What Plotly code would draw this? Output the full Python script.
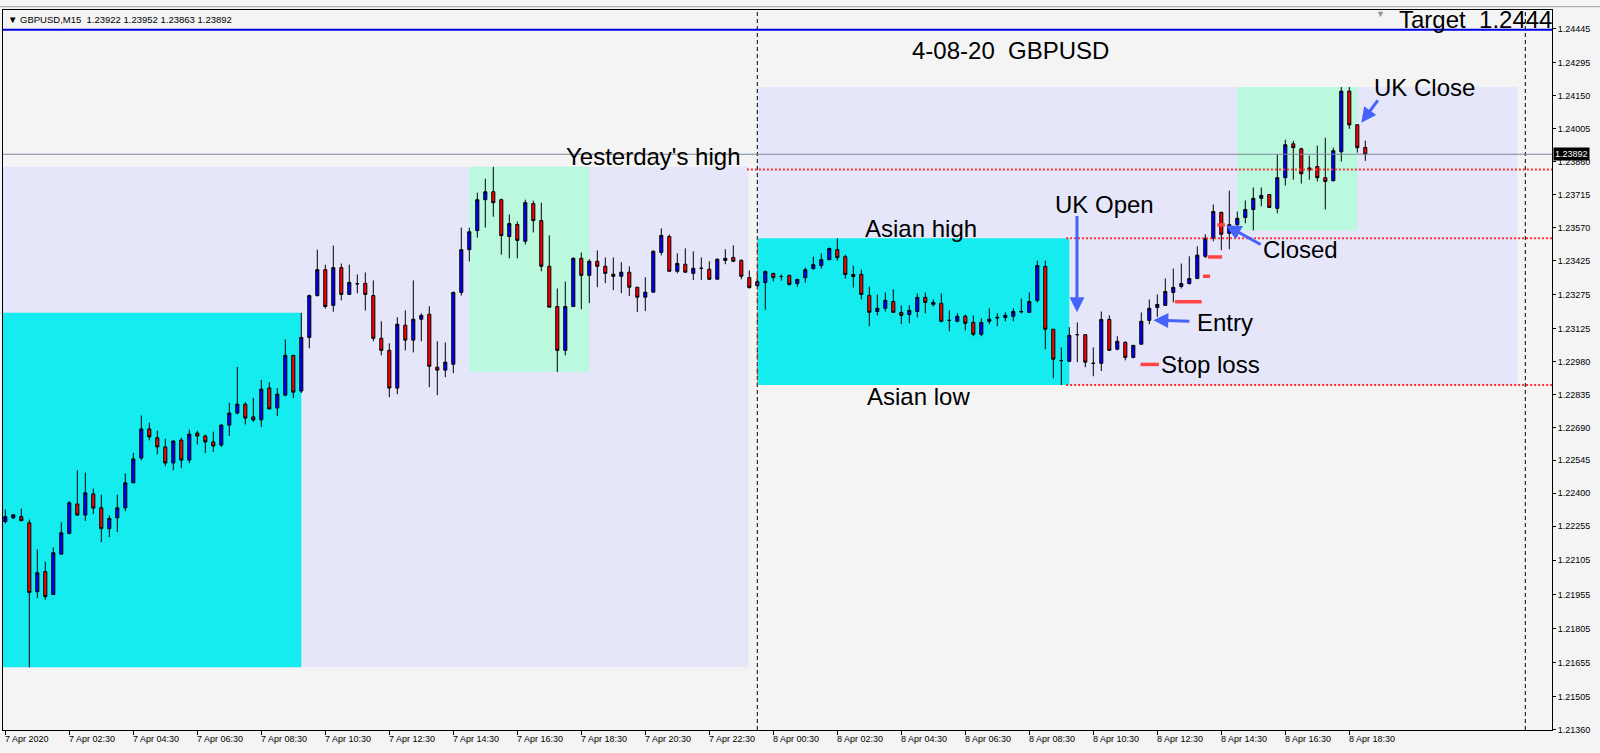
import plotly.graph_objects as go

# ---------------- data ----------------
symbol = "GBPUSD"
timeframe = "M15"
bars = list(range(171))  # bar index, M15 bars from 7 Apr 00:30

opens = [
    1.22275, 1.22292, 1.22297, 1.22270, 1.21967, 1.22055, 1.21954, 1.22132, 1.22223, 1.22353,
    1.22304, 1.22397, 1.22336, 1.22244, 1.22292, 1.22336, 1.22446, 1.22555, 1.22683, 1.22644,
    1.22604, 1.22533, 1.22634, 1.22546, 1.22665, 1.22652, 1.22626, 1.22612, 1.22700, 1.22753,
    1.22792, 1.22736, 1.22723, 1.22863, 1.22775, 1.22832, 1.23007, 1.22850, 1.23086, 1.23270,
    1.23384, 1.23227, 1.23393, 1.23275, 1.23322, 1.23324, 1.23270, 1.23082, 1.23029, 1.22863,
    1.23140, 1.23074, 1.23166, 1.23188, 1.22955, 1.22942, 1.22968, 1.23284, 1.23472, 1.23556,
    1.23692, 1.23727, 1.23692, 1.23530, 1.23583, 1.23509, 1.23675, 1.23600, 1.23399, 1.23222,
    1.23029, 1.23222, 1.23434, 1.23359, 1.23421, 1.23399, 1.23364, 1.23355, 1.23373, 1.23307,
    1.23263, 1.23285, 1.23460, 1.23530, 1.23377, 1.23408, 1.23368, 1.23390, 1.23386, 1.23342,
    1.23425, 1.23438, 1.23425, 1.23349, 1.23314, 1.23327, 1.23367, 1.23354, 1.23358, 1.23323,
    1.23349, 1.23389, 1.23402, 1.23428, 1.23472, 1.23441, 1.23363, 1.23363, 1.23271, 1.23200,
    1.23214, 1.23244, 1.23196, 1.23187, 1.23200, 1.23262, 1.23240, 1.23236, 1.23161, 1.23157,
    1.23179, 1.23152, 1.23100, 1.23157, 1.23171, 1.23174, 1.23179, 1.23198, 1.23196, 1.23249,
    1.23398, 1.23122, 1.22984, 1.22981, 1.23098, 1.23098, 1.22972, 1.22972, 1.23165, 1.23034,
    1.23064, 1.22998, 1.23056, 1.23161, 1.23218, 1.23227, 1.23284, 1.23310, 1.23323, 1.23345,
    1.23443, 1.23522, 1.23636, 1.23544, 1.23582, 1.23614, 1.23649, 1.23698, 1.23715, 1.23654,
    1.23789, 1.23938, 1.23916, 1.23832, 1.23838, 1.23789, 1.23776, 1.23903, 1.24170, 1.24022,
    1.23922,
]
highs = [
    1.22329, 1.22307, 1.22333, 1.22284, 1.22153, 1.22099, 1.22161, 1.22272, 1.22365, 1.22501,
    1.22491, 1.22421, 1.22394, 1.22303, 1.22394, 1.22487, 1.22578, 1.22742, 1.22711, 1.22676,
    1.22640, 1.22634, 1.22645, 1.22680, 1.22676, 1.22658, 1.22671, 1.22705, 1.22798, 1.22956,
    1.22801, 1.22820, 1.22899, 1.22889, 1.22863, 1.23077, 1.23007, 1.23194, 1.23275, 1.23472,
    1.23406, 1.23490, 1.23411, 1.23406, 1.23363, 1.23372, 1.23337, 1.23157, 1.23060, 1.23175,
    1.23205, 1.23337, 1.23192, 1.23223, 1.23069, 1.23064, 1.23288, 1.23569, 1.23569, 1.23723,
    1.23784, 1.23837, 1.23697, 1.23627, 1.23596, 1.23692, 1.23688, 1.23679, 1.23535, 1.23301,
    1.23332, 1.23438, 1.23460, 1.23430, 1.23469, 1.23438, 1.23438, 1.23417, 1.23399, 1.23307,
    1.23351, 1.23469, 1.23566, 1.23539, 1.23456, 1.23478, 1.23465, 1.23438, 1.23421, 1.23434,
    1.23474, 1.23491, 1.23430, 1.23381, 1.23371, 1.23381, 1.23371, 1.23363, 1.23363, 1.23345,
    1.23393, 1.23441, 1.23455, 1.23481, 1.23522, 1.23450, 1.23402, 1.23384, 1.23310, 1.23275,
    1.23284, 1.23297, 1.23227, 1.23227, 1.23280, 1.23284, 1.23253, 1.23280, 1.23205, 1.23192,
    1.23187, 1.23183, 1.23170, 1.23214, 1.23192, 1.23196, 1.23214, 1.23257, 1.23284, 1.23424,
    1.23424, 1.23122, 1.23042, 1.23131, 1.23152, 1.23098, 1.23042, 1.23200, 1.23183, 1.23091,
    1.23069, 1.23051, 1.23196, 1.23253, 1.23275, 1.23345, 1.23389, 1.23411, 1.23443, 1.23487,
    1.23540, 1.23671, 1.23640, 1.23732, 1.23640, 1.23689, 1.23746, 1.23746, 1.23715, 1.23890,
    1.23956, 1.23951, 1.23921, 1.23886, 1.23930, 1.23965, 1.23921, 1.24188, 1.24188, 1.24022,
    1.23952,
]
lows = [
    1.22267, 1.22286, 1.22278, 1.21634, 1.21939, 1.21931, 1.21953, 1.22131, 1.22219, 1.22300,
    1.22278, 1.22308, 1.22185, 1.22207, 1.22229, 1.22321, 1.22445, 1.22545, 1.22633, 1.22571,
    1.22519, 1.22501, 1.22510, 1.22532, 1.22615, 1.22577, 1.22582, 1.22604, 1.22652, 1.22747,
    1.22703, 1.22714, 1.22692, 1.22769, 1.22740, 1.22827, 1.22819, 1.22841, 1.23038, 1.23266,
    1.23213, 1.23199, 1.23249, 1.23274, 1.23280, 1.23204, 1.23069, 1.23007, 1.22823, 1.22836,
    1.23029, 1.23020, 1.23069, 1.22867, 1.22832, 1.22911, 1.22929, 1.23270, 1.23420, 1.23525,
    1.23569, 1.23617, 1.23450, 1.23434, 1.23434, 1.23495, 1.23548, 1.23377, 1.23219, 1.22933,
    1.23007, 1.23222, 1.23210, 1.23237, 1.23307, 1.23325, 1.23294, 1.23281, 1.23268, 1.23198,
    1.23202, 1.23284, 1.23447, 1.23377, 1.23368, 1.23371, 1.23338, 1.23338, 1.23338, 1.23342,
    1.23408, 1.23417, 1.23342, 1.23301, 1.23310, 1.23208, 1.23332, 1.23336, 1.23314, 1.23309,
    1.23327, 1.23384, 1.23389, 1.23428, 1.23424, 1.23345, 1.23305, 1.23253, 1.23135, 1.23183,
    1.23200, 1.23195, 1.23144, 1.23148, 1.23174, 1.23192, 1.23222, 1.23152, 1.23113, 1.23152,
    1.23117, 1.23091, 1.23091, 1.23144, 1.23135, 1.23157, 1.23157, 1.23192, 1.23195, 1.23240,
    1.23034, 1.22906, 1.22876, 1.22977, 1.22977, 1.22955, 1.22915, 1.22938, 1.23029, 1.23029,
    1.22985, 1.22994, 1.23056, 1.23144, 1.23176, 1.23227, 1.23240, 1.23301, 1.23319, 1.23345,
    1.23435, 1.23509, 1.23470, 1.23474, 1.23531, 1.23588, 1.23557, 1.23663, 1.23658, 1.23632,
    1.23754, 1.23780, 1.23763, 1.23780, 1.23772, 1.23649, 1.23772, 1.23860, 1.24004, 1.23899,
    1.23863,
]
closes = [
    1.22297, 1.22305, 1.22279, 1.21963, 1.22050, 1.21945, 1.22138, 1.22226, 1.22358, 1.22304,
    1.22402, 1.22335, 1.22244, 1.22289, 1.22336, 1.22446, 1.22551, 1.22683, 1.22648, 1.22604,
    1.22533, 1.22630, 1.22546, 1.22660, 1.22652, 1.22626, 1.22608, 1.22700, 1.22753, 1.22792,
    1.22731, 1.22723, 1.22858, 1.22771, 1.22836, 1.23007, 1.22845, 1.23086, 1.23270, 1.23384,
    1.23222, 1.23393, 1.23275, 1.23328, 1.23322, 1.23275, 1.23082, 1.23029, 1.22863, 1.23144,
    1.23074, 1.23166, 1.23183, 1.22959, 1.22942, 1.22977, 1.23284, 1.23472, 1.23551, 1.23692,
    1.23727, 1.23679, 1.23534, 1.23587, 1.23513, 1.23679, 1.23600, 1.23399, 1.23219, 1.23029,
    1.23222, 1.23434, 1.23359, 1.23421, 1.23399, 1.23368, 1.23355, 1.23373, 1.23307, 1.23263,
    1.23285, 1.23465, 1.23535, 1.23377, 1.23412, 1.23373, 1.23390, 1.23390, 1.23342, 1.23430,
    1.23434, 1.23421, 1.23355, 1.23305, 1.23331, 1.23376, 1.23349, 1.23354, 1.23319, 1.23341,
    1.23384, 1.23406, 1.23428, 1.23477, 1.23437, 1.23363, 1.23354, 1.23275, 1.23196, 1.23214,
    1.23249, 1.23196, 1.23183, 1.23205, 1.23262, 1.23240, 1.23231, 1.23157, 1.23161, 1.23179,
    1.23148, 1.23100, 1.23152, 1.23166, 1.23174, 1.23183, 1.23200, 1.23200, 1.23244, 1.23402,
    1.23122, 1.22990, 1.22984, 1.23095, 1.23098, 1.22977, 1.22972, 1.23165, 1.23029, 1.23069,
    1.22998, 1.23051, 1.23157, 1.23214, 1.23231, 1.23288, 1.23306, 1.23323, 1.23345, 1.23448,
    1.23522, 1.23640, 1.23540, 1.23582, 1.23610, 1.23649, 1.23698, 1.23711, 1.23658, 1.23789,
    1.23934, 1.23921, 1.23806, 1.23823, 1.23789, 1.23772, 1.23908, 1.24170, 1.24021, 1.23921,
    1.23892,
]

x_tick_bars = list(range(0, 169, 8))
x_tick_labels = [
    "7 Apr 2020", "7 Apr 02:30", "7 Apr 04:30", "7 Apr 06:30", "7 Apr 08:30", "7 Apr 10:30",
    "7 Apr 12:30", "7 Apr 14:30", "7 Apr 16:30", "7 Apr 18:30", "7 Apr 20:30", "7 Apr 22:30",
    "8 Apr 00:30", "8 Apr 02:30", "8 Apr 04:30", "8 Apr 06:30", "8 Apr 08:30", "8 Apr 10:30",
    "8 Apr 12:30", "8 Apr 14:30", "8 Apr 16:30", "8 Apr 18:30",
]
y_tick_values = [
    1.24445, 1.24295, 1.24150, 1.24005, 1.23860, 1.23715, 1.23570, 1.23425, 1.23275, 1.23125,
    1.22980, 1.22835, 1.22690, 1.22545, 1.22400, 1.22255, 1.22105, 1.21955, 1.21805, 1.21655,
    1.21505, 1.21360,
]
y_tick_labels = [f"{v:.5f}" for v in y_tick_values]

# session boxes: day range, Asian session, UK afternoon
box_names = ["day1", "asia1", "uk1", "day2", "asia2", "uk2"]
box_x0 = [-1.0, -1.0, 58.0, 94.0, 94.0, 154.0]
box_x1 = [92.9, 37.0, 73.0, 189.0, 133.0, 169.0]
box_low = [1.21634, 1.21634, 1.22935, 1.22876, 1.22876, 1.23557]
box_high = [1.23837, 1.23194, 1.23837, 1.24188, 1.23522, 1.24188]

# levels
yesterday_high = 1.23825
asian_high = 1.23522
asian_low = 1.22876
target_level = 1.24440
last_price = closes[-1]
day_separators = [94, 190]

# trailing stop marks
stop_levels = [1.22967, 1.23243, 1.23355, 1.23440, 1.23581]
stop_x0 = [141.9, 146.2, 149.7, 150.3, 151.5]
stop_x1 = [144.2, 149.55, 150.6, 152.1, 152.45]

# text labels (bar, price)
label_texts = ["4-08-20\u00a0\u00a0GBPUSD", "Yesterday's high", "Asian high", "Asian low",
               "UK Open", "Closed", "Entry", "Stop loss", "UK Close"]
label_x = [125.6, 81.0, 114.4, 114.2, 137.4, 161.96, 152.4, 150.7, 177.4]
label_y = [1.24347, 1.23884, 1.23566, 1.22828, 1.23671, 1.23475, 1.23152, 1.22966, 1.24188]

# arrows: tail -> tip (bar, price)
arrow_tail_x = [133.96, 157.1, 148.2, 171.7]
arrow_tail_y = [1.23627, 1.23491, 1.23157, 1.24136]
arrow_tip_x = [133.96, 152.6, 143.5, 169.5]
arrow_tip_y = [1.23197, 1.23579, 1.23162, 1.24031]

# ---------------- styling ----------------
BG = "#F4F4F4"
LAVENDER = "#E6E6FA"
CYAN = "#14ECF0"
MINT = "#BBF9DF"
box_colors = [LAVENDER, CYAN, MINT, LAVENDER, CYAN, MINT]
FONT = "Liberation Sans, Arial, sans-serif"
ARROW = "#4563FA"

W, H = 1600, 753
ML, MR, MT, MB = 3, 48, 10, 23
X_RANGE = [-0.2875, 193.3375]
Y_RANGE = [1.21358, 1.24527]

fig = go.Figure()
fig.add_trace(go.Candlestick(
    x=bars, open=opens, high=highs, low=lows, close=closes,
    increasing=dict(fillcolor="#0000FF", line=dict(color="#000000", width=1)),
    decreasing=dict(fillcolor="#FF0000", line=dict(color="#000000", width=1)),
    whiskerwidth=0, showlegend=False, hoverinfo="skip",
))

shapes = []
for x0, x1, lo, hi, col in zip(box_x0, box_x1, box_low, box_high, box_colors):
    shapes.append(dict(type="rect", xref="x", yref="y", x0=x0, x1=x1, y0=lo, y1=hi,
                       fillcolor=col, line=dict(width=0), layer="below"))

# day separators
for xs in day_separators:
    shapes.append(dict(type="line", xref="x", yref="paper", x0=xs, x1=xs, y0=0, y1=1,
                       line=dict(color="#000000", width=1, dash="4px,3px"), layer="above"))
# red dotted edge on Asian box
shapes.append(dict(type="line", xref="x", yref="y", x0=box_x0[4], x1=box_x0[4],
                   y0=asian_low, y1=asian_high,
                   line=dict(color="#E03030", width=1, dash="3px,2px"), layer="above"))

# current price line
shapes.append(dict(type="line", xref="paper", yref="y", x0=0, x1=1, y0=last_price, y1=last_price,
                   line=dict(color="#7A8898", width=1), layer="above"))
# target line
shapes.append(dict(type="line", xref="paper", yref="y", x0=0, x1=1, y0=target_level, y1=target_level,
                   line=dict(color="#0000E6", width=2), layer="above"))
# red dotted levels
for lvl, xs in [(yesterday_high, 92.7), (asian_high, 132.6), (asian_low, 132.6)]:
    shapes.append(dict(type="line", xref="x", yref="y", x0=xs, x1=X_RANGE[1], y0=lvl, y1=lvl,
                       line=dict(color="#FF3030", width=2, dash="2px,2px"), layer="above"))
# stop marks
for lvl, a, b in zip(stop_levels, stop_x0, stop_x1):
    shapes.append(dict(type="line", xref="x", yref="y", x0=a, x1=b, y0=lvl, y1=lvl,
                       line=dict(color="#FF4545", width=3.5), layer="above"))

# window border line
shapes.append(dict(type="line", xref="paper", yref="paper", x0=-0.01, x1=1.05,
                   y0=1 + 3.3 / (H - MT - MB), y1=1 + 3.3 / (H - MT - MB),
                   line=dict(color="#A0A0A0", width=1)))

annotations = []
for t, x, y in zip(label_texts, label_x, label_y):
    annotations.append(dict(text=t, x=x, y=y, xref="x", yref="y", showarrow=False,
                            xanchor="center", yanchor="middle",
                            font=dict(family=FONT, size=24, color="#000000")))

for tx, ty, hx, hy in zip(arrow_tail_x, arrow_tail_y, arrow_tip_x, arrow_tip_y):
    annotations.append(dict(text="", x=hx, y=hy, ax=tx, ay=ty, xref="x", yref="y",
                            axref="x", ayref="y", showarrow=True, arrowhead=2, arrowsize=1,
                            arrowwidth=3, arrowcolor=ARROW, standoff=0, startstandoff=0))

# Target text
annotations.append(dict(text=f"Target\u00a0\u00a0{target_level:.4f}", x=1, xref="paper",
                        y=1.24486, yref="y", xanchor="right", yanchor="middle", showarrow=False,
                        xshift=2, font=dict(family=FONT, size=24, color="#000000")))
annotations.append(dict(text="\u25BC", x=171.96, y=1.24510, xref="x", yref="y", showarrow=False,
                        font=dict(family=FONT, size=9, color="#8C96A0")))

# header
header = (f"\u25BC {symbol},{timeframe}\u00a0\u00a0{opens[-1]:.5f} {highs[-1]:.5f} "
          f"{lows[-1]:.5f} {closes[-1]:.5f}")
annotations.append(dict(text=header, x=0, y=1, xref="paper", yref="paper", xanchor="left",
                        yanchor="top", xshift=3, yshift=-2, showarrow=False,
                        font=dict(family=FONT, size=9.5, color="#000000")))

# price label at axis
annotations.append(dict(text=f"{last_price:.5f}", x=1, y=last_price, xref="paper", yref="y",
                        xanchor="left", yanchor="middle", xshift=1, showarrow=False,
                        bgcolor="#000000", borderpad=1,
                        font=dict(family=FONT, size=9, color="#FFFFFF")))

# x tick labels (left aligned like MT4)
for b, lab in zip(x_tick_bars, x_tick_labels):
    annotations.append(dict(text=lab, x=b, y=0, xref="x", yref="paper", xanchor="left",
                            yanchor="top", xshift=-2, yshift=-2, showarrow=False,
                            font=dict(family=FONT, size=9, color="#000000")))

fig.update_layout(
    width=W, height=H, autosize=False,
    margin=dict(l=ML, r=MR, t=MT, b=MB, pad=0),
    paper_bgcolor=BG, plot_bgcolor=BG,
    shapes=shapes, annotations=annotations,
    boxgap=0.45,
    showlegend=False,
    xaxis=dict(range=X_RANGE, type="linear", showgrid=False, zeroline=False,
               rangeslider=dict(visible=False), tickvals=x_tick_bars, showticklabels=False,
               ticks="outside", ticklen=4, tickcolor="#000000",
               showline=True, linecolor="#000000", linewidth=1, mirror=True, fixedrange=True),
    yaxis=dict(range=Y_RANGE, side="right", showgrid=False, zeroline=False,
               tickvals=y_tick_values, ticktext=y_tick_labels, ticks="outside", ticklen=3,
               tickcolor="#000000", tickfont=dict(family=FONT, size=9, color="#000000"),
               showline=True, linecolor="#000000", linewidth=1, mirror=True, fixedrange=True),
)

fig.write_html("out.html", config={"displayModeBar": False},
               post_script="document.body.style.margin='0px';")
